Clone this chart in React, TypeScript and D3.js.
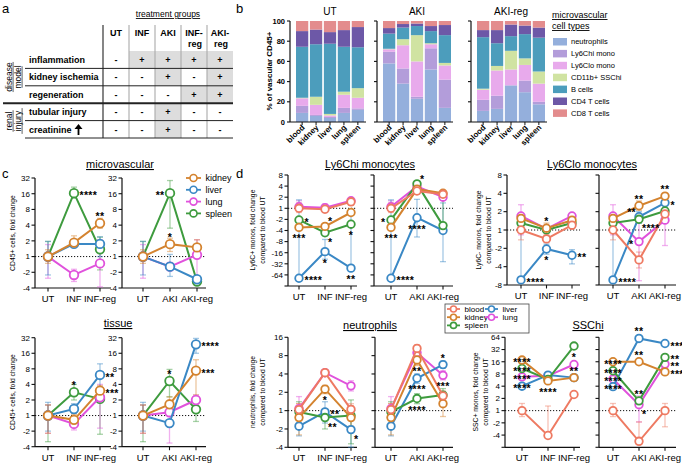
import * as d3 from 'd3';

const FONT = "'Liberation Sans', Arial, Helvetica, sans-serif";

// ---------- a: study design ----------
const treatmentCols = ['UT', 'INF', 'AKI', 'INF-reg', 'AKI-reg'];
const designRows = ['inflammation', 'kidney ischemia', 'regeneration', 'tubular injury', 'creatinine'];
const designMarks = [
  ['-', '+', '+', '+', '+'],
  ['-', '-', '+', '-', '+'],
  ['-', '-', '-', '+', '+'],
  ['-', '-', '+', '-', '-'],
  ['-', '-', '+', '-', '-'],
];

// ---------- b: composition of vascular CD45+ cells (%) ----------
const cellTypes = ['neutrophils', 'Ly6Chi mono', 'Ly6Clo mono', 'CD11b+ SSChi', 'B cells', 'CD4 T cells', 'CD8 T cells'];
const cellColors = ['#94afdc', '#b39dda', '#e8aaec', '#d0e3a2', '#4c9dbc', '#6d58a7', '#e38c8d'];
const tissues = ['blood', 'kidney', 'liver', 'lung', 'spleen'];
const compGroups = ['UT', 'AKI', 'AKI-reg'];
// one row per tissue, one column per cell type
const compUT = [
  [9, 7, 7.5, 0.5, 50.5, 15.5, 10],
  [6, 1, 10, 8, 52, 14.5, 8.5],
  [4, 1, 1.5, 1.5, 69.5, 11.5, 11],
  [9, 5, 13, 3, 44.5, 16.5, 9],
  [12, 1.5, 10.5, 9.5, 40.5, 20, 6],
];
const compAKI = [
  [58, 11.5, 2.5, 0.5, 15, 5.5, 7],
  [38, 15, 23, 6, 11.5, 3.5, 3],
  [23, 2, 35, 26, 9, 2.5, 2.5],
  [52, 21, 4, 1, 12, 5, 5],
  [14, 28, 14, 2.5, 27.5, 10, 4],
];
const compAKIreg = [
  [11, 11, 10, 1, 51, 7, 9],
  [13, 13, 25, 4.5, 22.5, 13, 9],
  [36, 0.5, 15.5, 18.5, 14.5, 11.5, 3.5],
  [29.5, 11.5, 15.5, 6.5, 24, 8.5, 4.5],
  [17.5, 2.5, 18, 12, 33.5, 10, 6.5],
];

// ---------- c: CD45+ fold change per organ ----------
const organs = ['kidney', 'liver', 'lung', 'spleen'];
const organColors = ['#d4832f', '#3a88c5', '#e052dc', '#3e9b3e'];
const infCats = ['UT', 'INF', 'INF-reg'];
const akiCats = ['UT', 'AKI', 'AKI-reg'];

const microInf = [[1, 1.85, 4.35], [1, 1.75, 1.75], [1, -2.25, -1.35], [1, 16.4, 1.38]];
const microInfErr = [
  [[-1.35, 1.35], [1.5, 2.5], [3.5, 5.4]],
  [[-2.25, 1.95], [1.5, 2.1], [1, 2.4]],
  [[-2.6, 1.7], [-3, -1.75], [-3.8, 2.1]],
  [[-1.15, 1.95], [13.1, 21.4], [-1.8, 2.35]],
];
const microAki = [[1, 1.73, 1.5], [1, -1.56, -2.72], [1, -1.56, 1.08], [1, 16.4, -3]];
const microAkiErr = [
  [[-1.35, 1.35], [1.25, 2.25], [1, 2.1]],
  [[-2.25, 1.95], [-2.4, 1.1], [-3, -2.4]],
  [[-2.6, 1.7], [-1.8, -1.3], [-3.25, 2.1]],
  [[-1.15, 1.95], [3.5, 28.6], [-3.2, -2.8]],
];
const tissueInf = [[1, -1.21, 3.03], [1, 1.34, 6.1], [1, -1.45, 2.26], [1, 2.82, 2.1]];
const tissueInfErr = [
  [[-2.2, 1.6], [-1.4, 1.05], [2.4, 3.8]],
  [[-2, 1.8], [1.1, 1.7], [3.6, 10]],
  [[-2.2, 1.6], [-1.9, -1.1], [-1.75, 4]],
  [[-3.2, 1.6], [2, 4], [-2.3, 3.2]],
];
const tissueAki = [[1, 1.65, 7.4], [1, -1.4, 23.8], [1, 1.16, 2.0], [1, 4.66, 1.32]];
const tissueAkiErr = [
  [[-2.2, 1.6], [1.3, 2.3], [2.5, 12]],
  [[-2, 1.8], [-1.6, -1.2], [16, 31]],
  [[-2.2, 1.6], [-3.4, 1.4], [1.6, 2.5]],
  [[-3.2, 1.6], [2.3, 7.8], [-1.3, 1.9]],
];

// ---------- d: fold change vs blood UT per source ----------
const sources = ['blood', 'kidney', 'spleen', 'liver', 'lung'];
const sourceColors = ['#ee7a62', '#d4832f', '#3e9b3e', '#3a88c5', '#e052dc'];

const hiInf = [[1, -1.06, 1.5], [-3.3, -3.1, -1.3], [-2.07, -4.6, -2.7], [-79, -15, -42], [1.1, 1.04, 1.6]];
const hiInfErr = [
  [[-1.3, 1.4], [-1.3, 1.25], [1.2, 1.7]],
  [[-3.8, -2.8], [-3.6, -2.6], [-1.5, -1.1]],
  [[-2.3, -1.8], [-5.5, -4], [-3, -2.4]],
  [[-79, 1.7], [-24, -7], [-42, -1.1]],
  [[-1.2, 1.6], [-1.2, 1.3], [1.3, 1.8]],
];
const hiAki = [[1, 2.95, 2.4], [-3.3, 3.3, 2.55], [-2.07, 4.6, -2.95], [-79, -1.8, -4.0], [1.1, 3.9, 2.0]];
const hiAkiErr = [
  [[-1.3, 1.4], [2.4, 3.6], [2, 2.8]],
  [[-3.8, -2.8], [2.8, 3.8], [2.2, 2.9]],
  [[-2.3, -1.8], [4, 5.2], [-3.6, 2.1]],
  [[-79, 1.7], [-6, 1.75], [-28, 1.4]],
  [[-1.2, 1.6], [3.4, 4.4], [1.7, 2.4]],
];
const loInf = [[1, -1.4, 1.2], [1.55, 1.07, 1.45], [1.3, 1.0, 1.3], [-6.6, -2.05, -2.6], [1.7, 1.04, 1.7]];
const loInfErr = [
  [[-1.45, 1.3], [-1.6, -1.2], [1.05, 1.35]],
  [[1.3, 1.8], [-1.1, 1.3], [1.3, 1.6]],
  [[1.15, 1.45], [-1.1, 1.1], [1.15, 1.45]],
  [[-6.6, 1.0], [-2.5, -1.7], [-3.6, -2.1]],
  [[-1.2, 2.6], [-1.1, 1.2], [1.5, 1.85]],
];
const loAki = [[1, -3.1, 1.83], [1.55, 2.5, 3.6], [1.3, 1.5, 2.05], [-6.6, 1.65, 2.8], [1.7, -1.55, 1.45]];
const loAkiErr = [
  [[-1.45, 1.3], [-4.2, -2.3], [1.5, 2.1]],
  [[1.3, 1.8], [2.1, 3.0], [3.2, 4.0]],
  [[1.15, 1.45], [1.3, 1.7], [1.8, 2.3]],
  [[-6.6, 1.0], [1.3, 2.0], [2.5, 3.1]],
  [[-1.2, 2.6], [-6.8, 1.65], [-1.8, 2.0]],
];
const neuInf = [[1.04, 4.2, 1.05], [-1.3, 2.25, -1.3], [-1.05, -1.3, -1.2], [-1.8, -1.05, -2.05], [1.08, 4.2, 2.55]];
const neuInfErr = [
  [[-1.2, 1.3], [3.8, 4.6], [-1.2, 1.3]],
  [[-2.5, 1.3], [1.9, 2.6], [-1.8, 1.2]],
  [[-1.6, 1.4], [-2, -1.05], [-3.5, 1.5]],
  [[-2.6, -1.3], [-1.6, 1.4], [-4, -1.3]],
  [[-1.3, 1.7], [3.8, 4.6], [2.1, 3.1]],
];
const neuAki = [[1.04, 10.5, 1.75], [-1.3, 6.8, 1.3], [-1.05, 1.58, 1.8], [-1.8, 3.4, 5.7], [1.08, 8.9, 3.8]];
const neuAkiErr = [
  [[-1.2, 1.3], [9, 12], [1.4, 2.1]],
  [[-2.5, 1.3], [5.5, 8], [-1.25, 1.8]],
  [[-1.6, 1.4], [1.3, 1.9], [1.3, 2.3]],
  [[-2.6, -1.3], [2.8, 4], [5, 6.5]],
  [[-1.3, 1.7], [7.5, 10], [3.2, 4.5]],
];
const sscInf = [[1, -4.1, 2.5], [17.6, 5.4, 6.5], [10.9, 5.9, 39], [4.0, 7.5, 6.5], [6.8, 7.2, 13.7]];
const sscInfErr = [
  [[-1.4, 1.5], [-4.3, 1.3], [2.3, 2.7]],
  [[15, 20], [5, 6], [6, 7]],
  [[9.5, 12.5], [5.5, 6.3], [36, 42]],
  [[3.6, 4.5], [7, 8], [6, 7]],
  [[6, 7.6], [6.6, 7.8], [12, 15.5]],
];
const sscAki = [[1, -5.7, 1], [16, 16, 9], [9.6, 1.74, 20.5], [3.9, 60, 45], [6, 1.4, 14]];
const sscAkiErr = [
  [[-1.4, 1.5], [-6.5, -1.9], [-2.5, 1.5]],
  [[14, 18], [14, 18], [8, 10]],
  [[8.5, 11], [1.5, 2], [18, 23]],
  [[3.5, 4.4], [55, 66], [41, 49]],
  [[5.3, 6.8], [-1.9, 2.3], [12.5, 16]],
];

// significance marks: [series, category index, label, placement]
type Star = [number, number, string, string];
const microInfStars: Star[] = [[3, 1, '****', 'r'], [0, 2, '**', 'a']];
const microAkiStars: Star[] = [[3, 1, '**', 'l'], [0, 1, '*', 'a']];
const tissueInfStars: Star[] = [[3, 1, '*', 'a'], [1, 2, '**', 'r'], [0, 2, '***', 'r']];
const tissueAkiStars: Star[] = [[3, 1, '*', 'a'], [1, 2, '****', 'r'], [0, 2, '***', 'r']];
const hiInfStars: Star[] = [[2, 0, '*', 'r'], [1, 0, '***', 'b'], [3, 0, '****', 'r'], [1, 1, '*', 'ar'], [2, 1, '*', 'br'], [3, 1, '*', 'b'], [2, 2, '*', 'b'], [3, 2, '**', 'b']];
const hiAkiStars: Star[] = [[2, 1, '*', 'ar'], [2, 0, '*', 'l'], [1, 0, '***', 'b'], [3, 0, '****', 'r'], [3, 1, '****', 'b']];
const loInfStars: Star[] = [[1, 1, '*', 'a'], [3, 0, '****', 'r'], [3, 1, '*', 'b'], [3, 2, '**', 'r']];
const loAkiStars: Star[] = [[1, 1, '**', 'a'], [1, 2, '**', 'a'], [3, 1, '**', 'al'], [2, 1, '****', 'br'], [4, 1, '*', 'l'], [3, 2, '*', 'r'], [3, 0, '****', 'r']];
const neuInfStars: Star[] = [[1, 1, '*', 'b'], [3, 1, '**', 'r'], [2, 1, '**', 'br'], [3, 2, '*', 'br']];
const neuAkiStars: Star[] = [[1, 1, '**', 'b'], [3, 1, '****', 'b'], [2, 1, '****', 'b'], [3, 2, '*', 'a'], [4, 2, '***', 'b']];
const sscInfStars: Star[] = [[1, 0, '****', 'c'], [2, 0, '****', 'c'], [4, 0, '****', 'c'], [3, 0, '****', 'c'], [1, 1, '****', 'b'], [4, 2, '*', 'a'], [1, 2, '**', 'a']];
const sscAkiStars: Star[] = [[1, 0, '****', 'c'], [2, 0, '****', 'c'], [4, 0, '****', 'c'], [3, 0, '****', 'c'], [3, 1, '**', 'a'], [1, 1, '**', 'a'], [2, 1, '**', 'a'], [4, 1, '*', 'br'], [3, 2, '***', 'r'], [2, 2, '**', 'r'], [4, 2, '**', 'r'], [1, 2, '***', 'r']];

// fold change axis: 1 at zero, doubling per unit in either direction
const toLog = (v: number) => (v >= 1 ? Math.log2(v) : -Math.log2(-v));
const fmtFold = (t: number) => (t >= 0 ? String(2 ** t) : '-' + 2 ** -t);

function starPlacement(p: string, x: number, y: number): [number, number, string] {
  switch (p) {
    case 'r': return [x + 5.5, y + 6, 'start'];
    case 'l': return [x - 5.5, y + 6, 'end'];
    case 'a': return [x, y - 3, 'middle'];
    case 'b': return [x, y + 15, 'middle'];
    case 'ar': return [x + 3, y - 1, 'start'];
    case 'al': return [x - 3, y - 1, 'end'];
    case 'br': return [x + 3, y + 13, 'start'];
    default: return [x, y + 6, 'middle'];
  }
}

interface FoldPlotProps {
  x0: number; x1: number; catRange: [number, number];
  top: number; bottom: number; tMin: number; tMax: number;
  cats: string[]; values: number[][]; errors: number[][][];
  colors: string[]; order: number[]; stars: Star[];
  yLabels?: boolean; hideBottom?: boolean; r?: number;
}

function FoldPlot(p: FoldPlotProps) {
  const y = d3.scaleLinear().domain([p.tMin, p.tMax]).range([p.bottom, p.top]);
  const x = d3.scalePoint<string>().domain(p.cats).range(p.catRange);
  const yv = (v: number) => y(toLog(v));
  const ticks = d3.range(p.tMin, p.tMax + 1);
  const line = d3.line<number>().x((_, i) => x(p.cats[i])!).y(v => yv(v));
  const r = p.r ?? 3.8;
  return (
    <g>
      <line x1={p.x0} x2={p.x1} y1={y(0)} y2={y(0)} stroke="#111" strokeWidth={1} strokeDasharray="1.2,1.8" />
      <line x1={p.x0} x2={p.x0} y1={p.top} y2={p.bottom} stroke="#111" strokeWidth={1.2} />
      {ticks.map(t => (
        <g key={t}>
          <line x1={p.x0 - 3.5} x2={p.x0} y1={y(t)} y2={y(t)} stroke="#111" strokeWidth={1.1} />
          {p.yLabels && !(p.hideBottom && t === p.tMin) && (
            <text x={p.x0 - 5} y={y(t)} dy="0.35em" textAnchor="end" fontSize={8}>{fmtFold(t)}</text>
          )}
        </g>
      ))}
      <line x1={p.x0} x2={p.x1} y1={p.bottom} y2={p.bottom} stroke="#111" strokeWidth={1.2} />
      {p.cats.map(c => (
        <g key={c}>
          <line x1={x(c)} x2={x(c)} y1={p.bottom} y2={p.bottom + 3.5} stroke="#111" strokeWidth={1.1} />
          <text x={x(c)} y={p.bottom + 14} textAnchor="middle" fontSize={9.5}>{c}</text>
        </g>
      ))}
      {p.order.map(s => p.errors[s].map(([lo, hi], i) => {
        const cx = x(p.cats[i])!;
        return (
          <g key={`e${s}-${i}`} stroke={p.colors[s]} strokeOpacity={0.45} strokeWidth={1.3}>
            <line x1={cx} x2={cx} y1={yv(lo)} y2={yv(hi)} />
            <line x1={cx - 3} x2={cx + 3} y1={yv(lo)} y2={yv(lo)} />
            <line x1={cx - 3} x2={cx + 3} y1={yv(hi)} y2={yv(hi)} />
          </g>
        );
      }))}
      {p.order.map(s => (
        <g key={`s${s}`}>
          <path d={line(p.values[s]) ?? ''} fill="none" stroke={p.colors[s]} strokeWidth={2} />
          {p.values[s].map((v, i) => (
            <circle key={i} cx={x(p.cats[i])} cy={yv(v)} r={r} fill="#fff" stroke={p.colors[s]} strokeWidth={1.8} />
          ))}
        </g>
      ))}
      {p.stars.map(([s, c, label, pos], i) => {
        const [sx, sy, anchor] = starPlacement(pos, x(p.cats[c])!, yv(p.values[s][c]));
        return (
          <text key={`st${i}`} x={sx} y={sy} textAnchor={anchor} fontSize={10.5} fontWeight="bold" letterSpacing={0.3}>{label}</text>
        );
      })}
    </g>
  );
}

function Title({ x, y, text }: { x: number; y: number; text: string }) {
  return <text x={x} y={y} textAnchor="middle" fontSize={11} textDecoration="underline">{text}</text>;
}

function YLabel({ x, y, lines, size = 6.8, gap = 10, bold = false }: { x: number; y: number; lines: string[]; size?: number; gap?: number; bold?: boolean }) {
  return (
    <g>
      {lines.map((l, i) => (
        <text key={l} transform={`translate(${x + i * gap},${y}) rotate(-90)`} textAnchor="middle" fontSize={size} fontWeight={bold ? 'bold' : 'normal'}>{l}</text>
      ))}
    </g>
  );
}

function PanelA() {
  const cx = d3.scaleBand().domain(treatmentCols).range([103, 233]);
  const ry = d3.scaleBand().domain(designRows).range([51, 138]);
  const bw = cx.bandwidth();
  const bh = ry.bandwidth();
  return (
    <g>
      <text x={168} y={17} textAnchor="middle" fontSize={8.5} textDecoration="underline">treatment groups</text>
      {designRows.map((row, ri) => treatmentCols.map((col, ci) => designMarks[ri][ci] === '+' && (
        <rect key={`${row}-${col}`} x={cx(col)} y={ry(row)} width={bw} height={bh} fill="#dddddd" />
      )))}
      {treatmentCols.map(col => {
        const parts = col.includes('-') ? [col.split('-')[0] + '-', col.split('-')[1]] : [col];
        return (
          <text key={col} y={36} textAnchor="middle" fontSize={9} fontWeight="bold">
            {parts.map((t, i) => <tspan key={t} x={cx(col)! + bw / 2 + (i ? 1 : 0)} dy={i ? 11 : 0}>{t}</tspan>)}
          </text>
        );
      })}
      {treatmentCols.map((col, i) => (
        <line key={col} x1={cx(col)} x2={cx(col)} y1={25} y2={138} stroke={i === 0 ? '#444' : '#aaa'} strokeWidth={i === 0 ? 1.3 : 1.1} />
      ))}
      {designRows.map((row, ri) => (
        <g key={row}>
          <line x1={ri === 2 ? 3 : 25} x2={233} y1={ry(row)! + bh} y2={ry(row)! + bh} stroke="#222" strokeWidth={ri === 2 ? 2 : 1} />
          <text x={29} y={ry(row)! + bh / 2 + 3.3} fontSize={9} fontWeight="bold">{row}</text>
          {treatmentCols.map((col, ci) => (
            <text key={col} x={cx(col)! + bw / 2} y={ry(row)! + bh / 2 + 3.3} textAnchor="middle" fontSize={9} fontWeight="bold">{designMarks[ri][ci]}</text>
          ))}
        </g>
      ))}
      {/* creatinine up arrow */}
      <path d="M77.6,135 V128.5 H79.4 V135 Z M74.5,129 L78.5,124 L82.5,129 Z" fill="#000" />
      <YLabel x={11.5} y={77} lines={['disease', 'model']} size={8.5} gap={9} />
      <YLabel x={11.5} y={121} lines={['renal', 'injury']} size={8.5} gap={9} />
      <g>
        {['disease', 'model', 'renal', 'injury'].map((w, i) => {
          const yc = i < 2 ? 77 : 121;
          const half = (w.length * 4.3) / 2;
          const xl = 11.5 + (i % 2) * 9 + 1.6;
          return <line key={w} x1={xl} x2={xl} y1={yc - half} y2={yc + half} stroke="#222" strokeWidth={0.7} />;
        })}
      </g>
    </g>
  );
}

function PanelB() {
  const y = d3.scaleLinear().domain([0, 100]).range([122, 21]);
  const groups = [compUT, compAKI, compAKIreg];
  const axisX = [290, 377, 471];
  const keys = cellTypes.map((_, i) => i);
  const stack = d3.stack<number[], number>().keys(keys).value((d, k) => d[k]);
  return (
    <g>
      <YLabel x={272} y={71} lines={['% of vascular CD45+']} size={8} bold />
      {groups.map((comp, gi) => {
        const ax = axisX[gi];
        const xb = d3.scaleBand().domain(tissues).range([ax + 6, ax + 74]).paddingInner(0.12);
        const series = stack(comp);
        return (
          <g key={compGroups[gi]}>
            <text x={ax + 40} y={15} textAnchor="middle" fontSize={10}>{compGroups[gi]}</text>
            {series.map((sr, si) => sr.map((d, ti) => (
              <rect key={`${si}-${ti}`} x={xb(tissues[ti])} y={y(d[1])} width={xb.bandwidth()} height={y(d[0]) - y(d[1])} fill={cellColors[si]} />
            )))}
            <line x1={ax} x2={ax} y1={21} y2={122} stroke="#111" strokeWidth={1.2} />
            <line x1={ax} x2={ax + 76} y1={122} y2={122} stroke="#111" strokeWidth={1.2} />
            {y.ticks(5).map(t => (
              <g key={t}>
                <line x1={ax - 3} x2={ax} y1={y(t)} y2={y(t)} stroke="#111" strokeWidth={1.1} />
                {gi === 0 && <text x={ax - 5} y={y(t)} dy="0.35em" textAnchor="end" fontSize={7.5} fontWeight="bold">{t}</text>}
              </g>
            ))}
            {tissues.map(t => {
              const tx = xb(t)! + xb.bandwidth() / 2;
              return (
                <g key={t}>
                  <line x1={tx} x2={tx} y1={122} y2={125} stroke="#111" strokeWidth={1} />
                  <text transform={`translate(${tx + 3},${128}) rotate(-45)`} textAnchor="end" fontSize={8} fontWeight="bold">{t}</text>
                </g>
              );
            })}
          </g>
        );
      })}
      <text x={552} y={18} fontSize={9} textDecoration="underline">microvascular</text>
      <text x={552} y={29} fontSize={9} textDecoration="underline">cell types</text>
      {cellTypes.map((c, i) => (
        <g key={c} transform={`translate(553,${42 + i * 11.9})`}>
          <rect x={0} y={-4} width={14} height={7.5} fill={cellColors[i]} />
          <text x={18} y={0} dy="0.33em" fontSize={7.5}>{c}</text>
        </g>
      ))}
    </g>
  );
}

function MarkerKey({ x, y, color, label, w = 15, r = 3.5, size = 9 }: { x: number; y: number; color: string; label: string; w?: number; r?: number; size?: number }) {
  return (
    <g transform={`translate(${x},${y})`}>
      <line x1={0} x2={w} stroke={color} strokeWidth={1.8} />
      <circle cx={w / 2} r={r} fill="#fff" stroke={color} strokeWidth={1.6} />
      <text x={w + 4.5} dy="0.35em" fontSize={size}>{label}</text>
    </g>
  );
}

export default function App() {
  const organOrder = [3, 2, 1, 0];
  const sourceOrder = [4, 3, 2, 1, 0];
  return (
    <svg width={682} height={466} fontFamily={FONT} style={{ position: 'absolute', left: 0, top: 0, background: '#fff' }}>
      <text x={2} y={13} fontSize={13}>a</text>
      <text x={236} y={13} fontSize={13}>b</text>
      <text x={2} y={178} fontSize={13}>c</text>
      <text x={236} y={178} fontSize={13}>d</text>

      <PanelA />
      <PanelB />

      {/* c: microvascular and tissue CD45+ */}
      <Title x={120} y={168} text="microvascular" />
      <Title x={118} y={327} text="tissue" />
      <YLabel x={15} y={233} lines={['CD45+ cells, fold change']} />
      <YLabel x={15} y={392} lines={['CD45+ cells, fold change']} />
      <FoldPlot x0={35} x1={111} catRange={[48, 100]} top={178} bottom={288} tMin={-2} tMax={5}
        cats={infCats} values={microInf} errors={microInfErr} colors={organColors} order={organOrder} stars={microInfStars} yLabels r={4.3} />
      <FoldPlot x0={122} x1={206} catRange={[143, 197]} top={178} bottom={288} tMin={-2} tMax={5}
        cats={akiCats} values={microAki} errors={microAkiErr} colors={organColors} order={organOrder} stars={microAkiStars} yLabels r={4.3} />
      <FoldPlot x0={35} x1={111} catRange={[48, 100]} top={337.7} bottom={446.7} tMin={-2} tMax={5}
        cats={infCats} values={tissueInf} errors={tissueInfErr} colors={organColors} order={organOrder} stars={tissueInfStars} yLabels r={4.3} />
      <FoldPlot x0={122} x1={206} catRange={[143, 196]} top={337.7} bottom={446.7} tMin={-2} tMax={5}
        cats={akiCats} values={tissueAki} errors={tissueAkiErr} colors={organColors} order={organOrder} stars={tissueAkiStars} yLabels r={4.3} />
      {organs.map((o, i) => (
        <MarkerKey key={o} x={186} y={178 + i * 11.8} color={organColors[i]} label={o} />
      ))}

      {/* d: myeloid subsets relative to blood UT */}
      <Title x={370} y={168} text="Ly6Chi monocytes" />
      <Title x={592} y={168} text="Ly6Clo monocytes" />
      <Title x={370} y={329} text="neutrophils" />
      <Title x={588} y={329} text="SSChi" />
      <YLabel x={255} y={230} lines={['Ly6C+ monos, fold change', 'compared to blood UT']} />
      <YLabel x={481} y={230} lines={['Ly6C- monos, fold change', 'compared to blood UT']} />
      <YLabel x={255} y={392} lines={['neutrophils, fold change', 'compared to blood UT']} />
      <YLabel x={478} y={392} lines={['SSC+ monos, fold change', 'compared to blood UT']} />

      <FoldPlot x0={288} x1={357} catRange={[299, 351]} top={175} bottom={286} tMin={-7} tMax={3}
        cats={infCats} values={hiInf} errors={hiInfErr} colors={sourceColors} order={sourceOrder} stars={hiInfStars} yLabels hideBottom />
      <FoldPlot x0={374} x1={453} catRange={[391, 443]} top={175} bottom={286} tMin={-7} tMax={3}
        cats={akiCats} values={hiAki} errors={hiAkiErr} colors={sourceColors} order={sourceOrder} stars={hiAkiStars} />
      <FoldPlot x0={507} x1={580} catRange={[521, 572]} top={175} bottom={285} tMin={-3} tMax={3}
        cats={infCats} values={loInf} errors={loInfErr} colors={sourceColors} order={sourceOrder} stars={loInfStars} yLabels />
      <FoldPlot x0={599} x1={676} catRange={[613, 665]} top={175} bottom={285} tMin={-3} tMax={3}
        cats={akiCats} values={loAki} errors={loAkiErr} colors={sourceColors} order={sourceOrder} stars={loAkiStars} />
      <FoldPlot x0={288} x1={357} catRange={[299, 351]} top={337.3} bottom={447.3} tMin={-2} tMax={4}
        cats={infCats} values={neuInf} errors={neuInfErr} colors={sourceColors} order={sourceOrder} stars={neuInfStars} yLabels />
      <FoldPlot x0={375} x1={453} catRange={[391, 443]} top={337.3} bottom={447.3} tMin={-2} tMax={4}
        cats={akiCats} values={neuAki} errors={neuAkiErr} colors={sourceColors} order={sourceOrder} stars={neuAkiStars} />
      <FoldPlot x0={505} x1={580} catRange={[522, 574]} top={337.3} bottom={447.3} tMin={-3} tMax={6}
        cats={infCats} values={sscInf} errors={sscInfErr} colors={sourceColors} order={sourceOrder} stars={sscInfStars} yLabels hideBottom />
      <FoldPlot x0={599} x1={676} catRange={[613, 665]} top={337.3} bottom={447.3} tMin={-3} tMax={6}
        cats={akiCats} values={sscAki} errors={sscAkiErr} colors={sourceColors} order={sourceOrder} stars={sscAkiStars} />

      <rect x={445} y={304} width={84} height={29} fill="#fff" stroke="#444" strokeWidth={0.8} />
      {sources.map((s, i) => (
        <MarkerKey key={s} x={i < 3 ? 447 : 485} y={309 + (i % 3) * 8.2} color={sourceColors[i]} label={s} w={13} r={3} size={8} />
      ))}
    </svg>
  );
}
